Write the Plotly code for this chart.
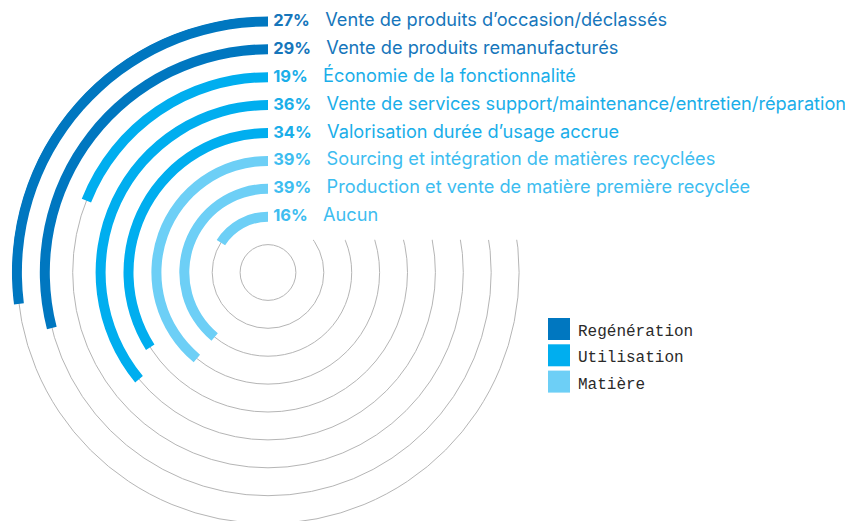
import math
import plotly.graph_objects as go

# data, from the outer ring inwards
labels = [
    "Vente de produits d\u2019occasion/déclassés",
    "Vente de produits remanufacturés",
    "Économie de la fonctionnalité",
    "Vente de services support/maintenance/entretien/réparation",
    "Valorisation durée d\u2019usage accrue",
    "Sourcing et intégration de matières recyclées",
    "Production et vente de matière première recyclée",
    "Aucun",
]
values = [27, 29, 19, 36, 34, 39, 39, 16]
groups = ["Regénération", "Regénération", "Utilisation", "Utilisation",
          "Utilisation", "Matière", "Matière", "Matière"]

group_names = ["Regénération", "Utilisation", "Matière"]
bar_colors = {"Regénération": "#0077c0", "Utilisation": "#00aeef", "Matière": "#6dcff6"}
text_colors = {"Regénération": "#1676bb", "Utilisation": "#1aaee9", "Matière": "#3dbdf0"}

W, H = 853, 521
OFF = 8                                      # page body margin
n = len(labels)
rings = [n + 1 - i for i in range(n)]       # outermost ring = n+1, innermost empty ring = 1
unit = 27.9                                  # px per ring
thick = 10 / unit

cx, cy = 268 - OFF, 272.5 - OFF              # centre of polar disc (figure px)
rad = H - cy                                 # largest disc that fits
R_MAX = rad / unit
CUT = 32.7                                   # grid circles hidden above this height, right of centre

fig = go.Figure()

# white mask hiding the grid circles behind the label block
mask_r, mask_w = [], []
for k in range(1, n + 2):
    if k * unit > CUT:
        mask_r.append(k)
        mask_w.append(90 - math.degrees(math.asin(CUT / (k * unit))))
fig.add_trace(go.Barpolar(
    r=[0.3] * len(mask_r),
    base=[k - 0.15 for k in mask_r],
    theta=[-w / 2 for w in mask_w],
    width=mask_w,
    marker=dict(color="white", line=dict(width=0)),
    showlegend=False,
    hoverinfo="skip",
))

for g in group_names:
    idx = [i for i in range(n) if groups[i] == g]
    fig.add_trace(go.Barpolar(
        r=[thick] * len(idx),
        base=[rings[i] - thick / 2 for i in idx],
        theta=[values[i] / 100 * 180 for i in idx],
        width=[values[i] / 100 * 360 for i in idx],
        marker=dict(color=bar_colors[g], line=dict(width=0)),
        name=g,
        showlegend=False,
        hoverinfo="skip",
    ))

# labels at the top end of each ring
fig.add_trace(go.Scatterpolar(
    r=rings,
    theta=[0] * n,
    mode="text",
    text=["\u00a0<span style='font-size:16.5px'><b>%d%%</b></span>\u00a0\u00a0\u00a0%s" % (v, l)
          for v, l in zip(values, labels)],
    textposition="middle right",
    textfont=dict(family="Inter", size=18.2, color=[text_colors[g] for g in groups]),
    cliponaxis=False,
    showlegend=False,
    hoverinfo="skip",
))

fig.update_layout(
    width=W, height=H,
    margin=dict(l=0, r=0, t=0, b=0),
    paper_bgcolor="white",
    plot_bgcolor="white",
    polar=dict(
        domain=dict(x=[(cx - rad) / W, (cx + rad) / W],
                    y=[max(0, (H - cy - rad) / H), (H - cy + rad) / H]),
        bgcolor="white",
        bargap=0,
        radialaxis=dict(range=[0, R_MAX], tickvals=list(range(1, n + 2)),
                        showgrid=True, gridcolor="#b5b5b5", gridwidth=1,
                        showline=False, showticklabels=False, ticks=""),
        angularaxis=dict(rotation=90, direction="counterclockwise",
                         showgrid=False, showline=False,
                         showticklabels=False, ticks=""),
    ),
)

# custom legend (bigger swatches than plotly's legend allows)
lx, ly, sq, step = 548 - OFF, 318 - OFF, 22, 26.3
for k, g in enumerate(group_names):
    y0 = ly + k * step
    fig.add_shape(type="rect", xref="paper", yref="paper",
                  x0=lx / W, x1=(lx + sq) / W,
                  y0=1 - (y0 + sq) / H, y1=1 - y0 / H,
                  fillcolor=bar_colors[g], line=dict(width=0))
    fig.add_annotation(xref="paper", yref="paper",
                       x=(lx + sq + 6) / W, y=1 - (y0 + sq / 2 + 3) / H,
                       text=g, showarrow=False, xanchor="left", yanchor="middle",
                       font=dict(family="Liberation Mono", size=16, color="#2a2a2a"))

fig.write_html("out.html")
